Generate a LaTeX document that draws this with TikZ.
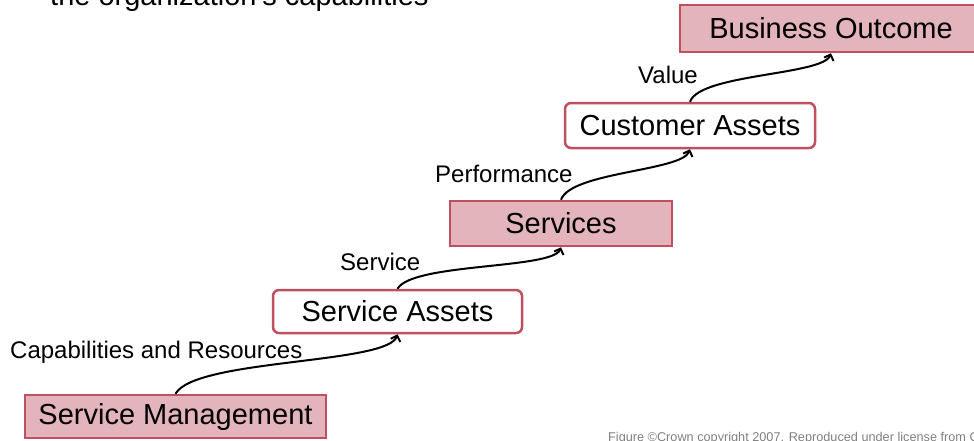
\documentclass[tikz,border=0pt]{standalone}
\usepackage{fontspec}
\setmainfont{Liberation Sans}
\usetikzlibrary{arrows.meta}
\definecolor{boxred}{RGB}{192,80,96}
\definecolor{boxpink}{RGB}{228,180,188}
\definecolor{capgray}{RGB}{128,128,128}
\newcommand{\boxfont}{\fontsize{29}{34}\selectfont}
\newcommand{\lblfont}{\fontsize{24}{28}\selectfont}

\begin{document}
\begin{tikzpicture}[x=1pt,y=-1pt,
	stepfill/.style={draw=boxred,line width=2.5pt,fill=boxpink,inner sep=0pt,font=\boxfont},
	stepopen/.style={draw=boxred,line width=2.5pt,fill=white,rounded corners=6pt,inner sep=0pt,font=\boxfont},
	lbl/.style={anchor=base west,inner sep=0pt,font=\lblfont},
	flow/.style={line width=2pt,-{Straight Barb[length=5pt,width=10pt]}}]
	\useasboundingbox (0,0) rectangle (974,440);
	\clip (0,0) rectangle (974,440);
	% steps, bottom to top
	\node[stepfill,minimum width=301pt,minimum height=43pt] (mgmt) at (175.5,416.5) {Service Management};
	\node[stepopen,minimum width=249pt,minimum height=43pt] (sassets) at (397.5,311.5) {Service Assets};
	\node[stepfill,minimum width=222pt,minimum height=45pt] (services) at (561,223.5) {Services};
	\node[stepopen,minimum width=250pt,minimum height=45pt] (cassets) at (690,125.5) {Customer Assets};
	\node[stepfill,minimum width=302pt,minimum height=47pt] (outcome) at (831,28.5) {Business Outcome};
	% links
	\draw[flow] (mgmt.north) .. controls +(20,-35) and +(-10,30) .. (sassets.south);
	\draw[flow] (sassets.north) .. controls +(15,-26) and +(-8,22) .. (services.south);
	\draw[flow] (services.north) .. controls +(10,-28) and +(-8,22) .. (cassets.south);
	\draw[flow] (cassets.north) .. controls +(10,-28) and +(-8,22) .. (outcome.south);
	\node[lbl] (capres) at (10,358) {Capabilities and Resources};
	\node[lbl] (svc) at (340,270) {Service};
	\node[lbl] (perf) at (435,182) {Performance};
	\node[lbl] (val) at (638,83) {Value};
	% cut-off text at the edges
	\node[anchor=base west,inner sep=0pt,font=\boxfont] (intro) at (50,5) {the organization's capabilities};
	\node[anchor=base west,inner sep=0pt,text=capgray,font=\fontsize{12.7}{15}\selectfont] (credit) at (608,441) {Figure ©Crown copyright 2007. Reproduced under license from C};
\end{tikzpicture}
\end{document}
